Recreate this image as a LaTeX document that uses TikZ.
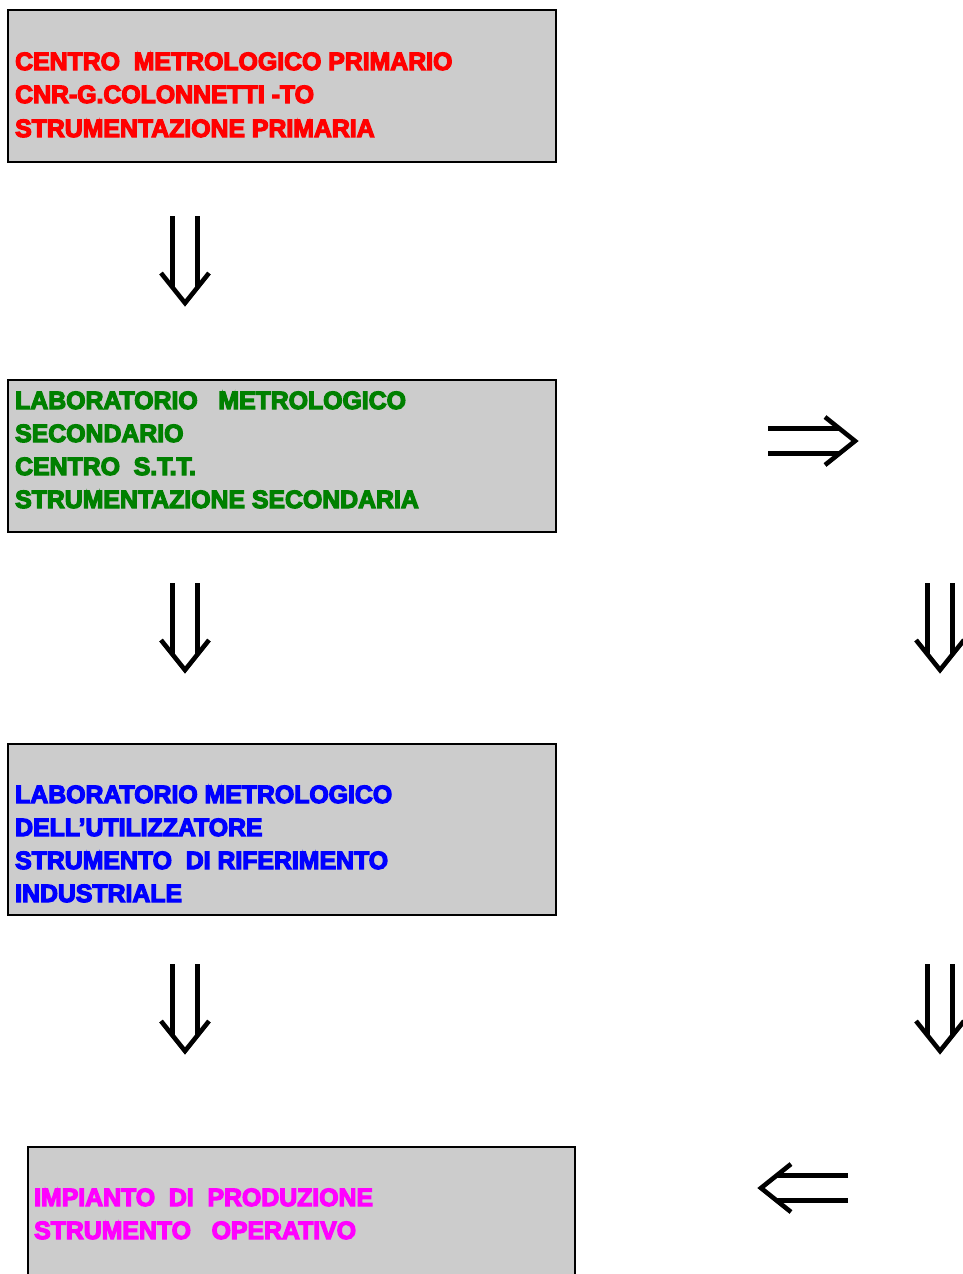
\documentclass[tikz,border=0pt]{standalone}
\usepackage{fontspec}
\newfontfamily\heavy{Liberation Sans}[UprightFont={* Bold}, FakeBold=5, FakeStretch=0.993]
\definecolor{boxgray}{HTML}{CCCCCC}
\definecolor{dkgreen}{HTML}{008000}
\definecolor{mag}{HTML}{FF00FF}
\begin{document}
\begin{tikzpicture}[x=1pt,y=1pt,
  box/.style={draw=black, line width=2pt, fill=boxgray, anchor=north west, inner sep=0pt},
  txt/.style={anchor=base west, inner sep=0pt, font=\heavy\fontsize{25}{30}\selectfont},
  arrline/.style={line width=4.6pt, line cap=butt},
  dblarrow/.pic={
    \draw[arrline] (-87,12.5) -- (-15,12.5);
    \draw[arrline] (-87,-12.5) -- (-15,-12.5);
    \draw[arrline, line join=miter] (-30,24) -- (0,0) -- (-30,-24);
  }]
\useasboundingbox (0,0) rectangle (962,-1274);

% boxes
\node[box, minimum width=548pt, minimum height=152pt] (b1) at (7,-9) {};
\node[box, minimum width=548pt, minimum height=152pt] (b2) at (7,-379) {};
\node[box, minimum width=548pt, minimum height=171pt] (b3) at (7,-743) {};
\node[box, minimum width=547pt, minimum height=160pt] (b4) at (27,-1146) {};

% texts
\node[txt, text=red] (t11) at (15,-70) {CENTRO\ \ METROLOGICO PRIMARIO};
\node[txt, text=red] (t12) at (15,-103) {CNR-G.COLONNETTI -TO};
\node[txt, text=red] (t13) at (15,-137) {STRUMENTAZIONE PRIMARIA};

\node[txt, text=dkgreen] (t21) at (15,-409) {LABORATORIO\ \ \ METROLOGICO};
\node[txt, text=dkgreen] (t22) at (15,-442) {SECONDARIO};
\node[txt, text=dkgreen] (t23) at (15,-475) {CENTRO\ \ S.T.T.};
\node[txt, text=dkgreen] (t24) at (15,-508) {STRUMENTAZIONE SECONDARIA};

\node[txt, text=blue] (t31) at (15,-803) {LABORATORIO METROLOGICO};
\node[txt, text=blue] (t32) at (15,-836) {DELL’UTILIZZATORE};
\node[txt, text=blue] (t33) at (15,-869) {STRUMENTO\ \ DI RIFERIMENTO};
\node[txt, text=blue] (t34) at (15,-902) {INDUSTRIALE};

\node[txt, text=mag] (t41) at (34,-1206) {IMPIANTO\ \ DI\ \ PRODUZIONE};
\node[txt, text=mag] (t42) at (34,-1239) {STRUMENTO\ \ \ OPERATIVO};

% arrows (tips)
\coordinate (d1) at (185,-303);
\coordinate (d2) at (185,-670);
\coordinate (d3) at (185,-1051);
\coordinate (r1) at (940,-670);
\coordinate (r2) at (940,-1051);
\coordinate (h1) at (855,-441);
\coordinate (h2) at (761,-1188);

\pic[rotate=-90] at (d1) {dblarrow};
\pic[rotate=-90] at (d2) {dblarrow};
\pic[rotate=-90] at (d3) {dblarrow};
\pic[rotate=-90] at (r1) {dblarrow};
\pic[rotate=-90] at (r2) {dblarrow};
\pic at (h1) {dblarrow};
\pic[rotate=180] at (h2) {dblarrow};
\end{tikzpicture}
\end{document}
